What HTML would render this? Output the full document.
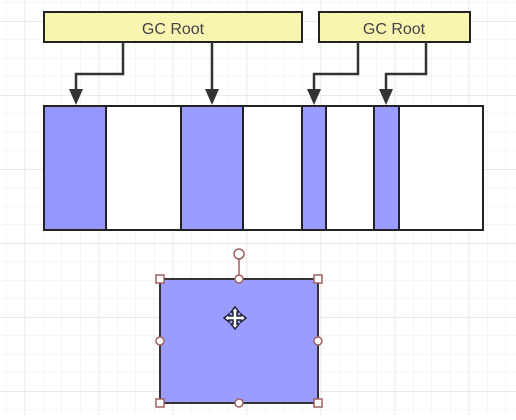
<!DOCTYPE html>
<html><head><style>
html,body{margin:0;padding:0;background:#fff;}
body{width:516px;height:415px;overflow:hidden;}
</style></head><body>
<svg width="516" height="415" xmlns="http://www.w3.org/2000/svg">
<defs>
<pattern id="g" x="6" y="2.5" width="18.5" height="18.5" patternUnits="userSpaceOnUse">
<path d="M0 0V18.5M0 0H18.5" stroke="#ececec" stroke-width="1" fill="none"/>
</pattern>
<pattern id="G" x="24.5" y="21" width="74" height="74" patternUnits="userSpaceOnUse">
<path d="M0 0V74M0 0H74" stroke="#e2e2e2" stroke-width="1.5" fill="none"/>
</pattern>
</defs>
<rect width="516" height="415" fill="url(#g)"/>
<rect width="516" height="415" fill="url(#G)"/>
<g stroke="#222" stroke-width="2">
<rect x="44" y="12" width="258" height="30" fill="#f9f4b0"/>
<rect x="319" y="12" width="151" height="30" fill="#f9f4b0"/>
</g>
<g font-family="Liberation Sans, sans-serif" font-size="16" fill="#444" text-anchor="middle">
<text x="173" y="34">GC Root</text>
<text x="394" y="34">GC Root</text>
</g>
<g stroke="#333" stroke-width="2.5" fill="none">
<path d="M123 42V74H76V92"/>
<path d="M212 42V92"/>
<path d="M358 42V74H314V92"/>
<path d="M426 42V74H386V92"/>
</g>
<g fill="#333">
<path d="M69 89H83L76 105Z"/>
<path d="M205 89H219L212 105Z"/>
<path d="M307 89H321L314 105Z"/>
<path d="M379 89H393L386 105Z"/>
</g>
<rect x="44" y="106" width="439" height="124" fill="#fff" stroke="#222" stroke-width="2"/>
<g fill="#9a9cff" stroke="#222" stroke-width="2">
<rect x="44" y="106" width="62" height="124" fill="#9496fb"/>
<rect x="181" y="106" width="62" height="124"/>
<rect x="302" y="106" width="24" height="124"/>
<rect x="374" y="106" width="25" height="124"/>
</g>
<g stroke="#222" stroke-width="2"><path d="M243 106V230M326 106V230M399 106V230"/></g>
<line x1="239" y1="259" x2="239" y2="279" stroke="#a06060" stroke-width="1.5"/>
<rect x="160" y="279" width="158" height="124" fill="#9a9cff" stroke="#333" stroke-width="2"/>
<g fill="#fff" stroke="#a06060" stroke-width="1.5">
<circle cx="239" cy="254" r="5"/>
<rect x="156" y="275" width="8" height="8"/><rect x="314" y="275" width="8" height="8"/>
<rect x="156" y="399" width="8" height="8"/><rect x="314" y="399" width="8" height="8"/>
<circle cx="239" cy="279" r="4"/><circle cx="239" cy="403" r="4"/>
<circle cx="160" cy="341" r="4"/><circle cx="318" cy="341" r="4"/>
</g>
<g stroke="#223" stroke-width="1.5" fill="#fff" transform="translate(-6,6)">
<path d="M235 310h4l-0 0v-4h-2l4-5 4 5h-2v4h4v-2l5 4-5 4v-2h-4v4h2l-4 5-4-5h2v-4h-4v2l-5-4 5-4z"/>
</g>
</svg>
</body></html>
